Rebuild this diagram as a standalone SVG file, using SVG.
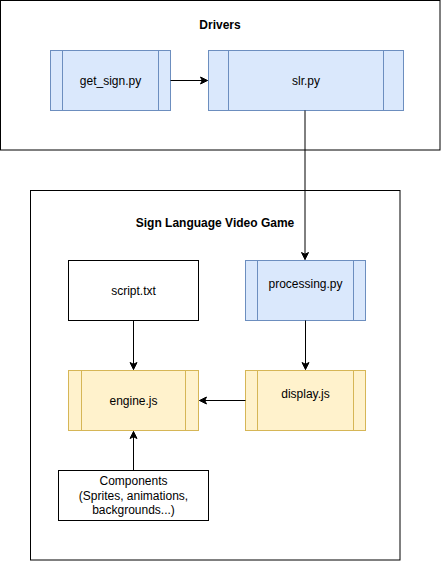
<svg xmlns="http://www.w3.org/2000/svg" width="441" height="561" viewBox="0 0 441 561">
<style>
.container{fill:#ffffff;stroke:#000000;stroke-width:1}
.blue{fill:#dae8fc;stroke:#6c8ebf;stroke-width:1}
.yellow{fill:#fff2cc;stroke:#d6b656;stroke-width:1}
.plain{fill:#ffffff;stroke:#000000;stroke-width:1}
.title{font-family:"Liberation Sans",Arial,sans-serif;font-size:12px;font-weight:bold;fill:#000;text-anchor:middle}
.label{font-family:"Liberation Sans",Arial,sans-serif;font-size:12px;fill:#000;text-anchor:middle}
.edge{fill:none;stroke:#000000;stroke-width:1}
</style>
<defs>
<marker id="arrow" markerWidth="10" markerHeight="10" refX="8" refY="5" orient="auto" markerUnits="userSpaceOnUse">
<path d="M1,1.5 L8,5 L1,8.5 L2.75,5 Z" fill="#000" stroke="#000" stroke-width="1"/>
</marker>
</defs>
<rect width="441" height="561" fill="#ffffff"/>
<g id="drivers">
<rect class="container" x="0.5" y="0.5" width="439.5" height="149.5"/>
<text class="title" x="220" y="29">Drivers</text>
</g>
<g id="game">
<rect class="container" x="30.5" y="190.5" width="369.5" height="369.5"/>
<text class="title" x="215" y="227">Sign Language Video Game</text>
</g>
<g id="get_sign">
<rect class="blue" x="50.5" y="50.5" width="120" height="60"/>
<line class="blue" x1="62.5" y1="50.5" x2="62.5" y2="110.5"/>
<line class="blue" x1="158.5" y1="50.5" x2="158.5" y2="110.5"/>
<text class="label" x="110.5" y="85">get_sign.py</text>
</g>
<g id="slr">
<rect class="blue" x="208.5" y="50.5" width="195" height="60"/>
<line class="blue" x1="228.5" y1="50.5" x2="228.5" y2="110.5"/>
<line class="blue" x1="383.5" y1="50.5" x2="383.5" y2="110.5"/>
<text class="label" x="306" y="85">slr.py</text>
</g>
<g id="script">
<rect class="plain" x="68.5" y="260.5" width="130" height="60"/>
<text class="label" x="133.5" y="295">script.txt</text>
</g>
<g id="processing">
<rect class="blue" x="245.5" y="260.5" width="120" height="60"/>
<line class="blue" x1="257.5" y1="260.5" x2="257.5" y2="320.5"/>
<line class="blue" x1="353.5" y1="260.5" x2="353.5" y2="320.5"/>
<text class="label" x="305.5" y="288">processing.py</text>
</g>
<g id="engine">
<rect class="yellow" x="68.5" y="370.5" width="130" height="60"/>
<line class="yellow" x1="81.5" y1="370.5" x2="81.5" y2="430.5"/>
<line class="yellow" x1="185.5" y1="370.5" x2="185.5" y2="430.5"/>
<text class="label" x="133.5" y="405">engine.js</text>
</g>
<g id="display">
<rect class="yellow" x="245.5" y="370.5" width="120" height="60"/>
<line class="yellow" x1="257.5" y1="370.5" x2="257.5" y2="430.5"/>
<line class="yellow" x1="353.5" y1="370.5" x2="353.5" y2="430.5"/>
<text class="label" x="305.5" y="398">display.js</text>
</g>
<g id="components">
<rect class="plain" x="58.5" y="470.5" width="150" height="50"/>
<text class="label" x="133.5" y="485">Components</text>
<text class="label" x="133.5" y="500">(Sprites, animations,</text>
<text class="label" x="133.5" y="514">backgrounds...)</text>
</g>
<g id="connectors">
<line class="edge" x1="170.5" y1="80.5" x2="207.5" y2="80.5" marker-end="url(#arrow)"/>
<line class="edge" x1="305" y1="110.5" x2="305" y2="259.5" marker-end="url(#arrow)"/>
<line class="edge" x1="133.5" y1="320.5" x2="133.5" y2="369.5" marker-end="url(#arrow)"/>
<line class="edge" x1="305.5" y1="320.5" x2="305.5" y2="369.5" marker-end="url(#arrow)"/>
<line class="edge" x1="245.5" y1="400.5" x2="199.5" y2="400.5" marker-end="url(#arrow)"/>
<line class="edge" x1="133.5" y1="470.5" x2="133.5" y2="431.5" marker-end="url(#arrow)"/>
</g>
</svg>
